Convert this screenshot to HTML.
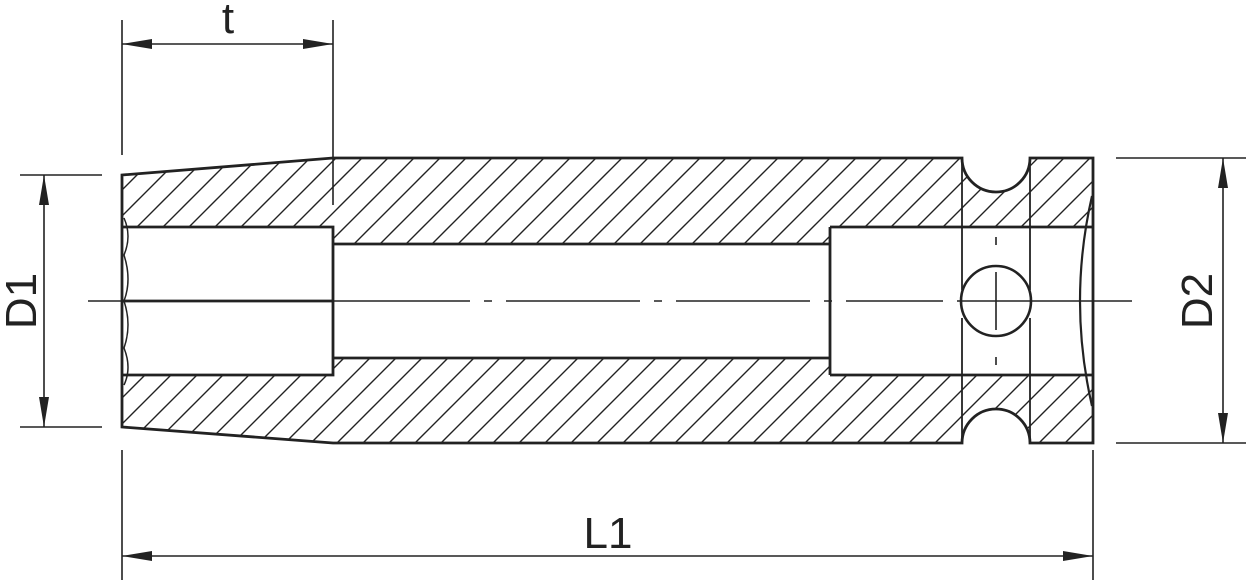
<!DOCTYPE html>
<html><head><meta charset="utf-8"><style>html,body{margin:0;padding:0;background:#fff}svg{display:block}</style></head>
<body>
<svg width="1250" height="585" viewBox="0 0 1250 585" xmlns="http://www.w3.org/2000/svg">
<defs>
<pattern id="h" patternUnits="userSpaceOnUse" width="26" height="26">
<path d="M0,26 L26,0 M-3,3 L3,-3 M23,29 L29,23" stroke="#222" stroke-width="1.4"/>
</pattern>
</defs>
<g stroke="#222" fill="none">
<!-- hatched material -->
<path fill="url(#h)" fill-rule="evenodd" stroke="none" d="M122,175 L333,158 L962,158 A34,34 0 0 0 1030,158 L1093,158 L1093,443 L1030,443 A34,34 0 0 0 962,443 L333,443 L122,427 Z M122,227 L333,227 L333,244 L830,244 L830,227 L1093,227 L1093,375 L830,375 L830,358 L333,358 L333,375 L122,375 Z"/>
<!-- outline -->
<path stroke-width="2.8" d="M122,175 L333,158 L962,158 A34,34 0 0 0 1030,158 L1093,158 L1093,443 L1030,443 A34,34 0 0 0 962,443 L333,443 L122,427 Z"/>
<path stroke-width="2.8" d="M122,227 L333,227 L333,375 L122,375 M333,244 L830,244 M333,358 L830,358 M830,227 L1093,227 M830,375 L1093,375 M830,227 L830,375"/>
<line x1="122" y1="301" x2="333" y2="301" stroke-width="2.8"/>
<!-- left chamfer arcs -->
<path stroke-width="1.5" d="M124,218 Q132,236 124,255 Q132,280 124,301 Q132,325 124,348 Q132,368 124,385"/>
<!-- right concave arc -->
<path stroke-width="2.2" d="M1092,196 Q1068,301 1092,406"/>
<!-- groove vertical lines -->
<path stroke-width="1.8" d="M962,158 L962,290 M962,318 L962,443 M1030,158 L1030,290 M1030,318 L1030,443"/>
<circle cx="996" cy="301" r="35" stroke-width="2.6"/>
<path stroke-width="1.6" d="M996,272 L996,330 M996,237 L996,245 M996,357 L996,365"/>
<!-- centerline -->
<path stroke-width="1.5" d="M88,301 L122,301 M333,301 L470,301 M484,301 L492,301 M506,301 L640,301 M654,301 L662,301 M676,301 L810,301 M824,301 L832,301 M846,301 L943,301 M957,301 L1030,301 M1093,301 L1132,301 M1030,301 L1093,301"/>
<!-- dimension lines -->
<path stroke-width="1.6" d="M122,20 L122,155 M333,20 L333,205 M122,44 L333,44
 M20,175 L102,175 M20,427 L102,427 M44,175 L44,427
 M1116,158 L1246,158 M1116,443 L1246,443 M1223,158 L1223,443
 M122,450 L122,580 M1093,450 L1093,580 M122,556 L1093,556"/>
</g>
<g fill="#222">
<path d="M122,44 L152,39 L152,49 Z M333,44 L303,39 L303,49 Z"/>
<path d="M44,175 L39,205 L49,205 Z M44,427 L39,397 L49,397 Z"/>
<path d="M1223,158 L1218,188 L1228,188 Z M1223,443 L1218,413 L1228,413 Z"/>
<path d="M122,556 L152,551 L152,561 Z M1093,556 L1063,551 L1063,561 Z"/>
</g>
<g font-family="Liberation Sans, sans-serif" font-size="44" fill="#222">
<text x="228" y="33" text-anchor="middle">t</text>
<text x="608" y="548" text-anchor="middle">L1</text>
<text transform="translate(36,301) rotate(-90)" text-anchor="middle">D1</text>
<text transform="translate(1212,301) rotate(-90)" text-anchor="middle">D2</text>
</g>
</svg>
</body></html>
